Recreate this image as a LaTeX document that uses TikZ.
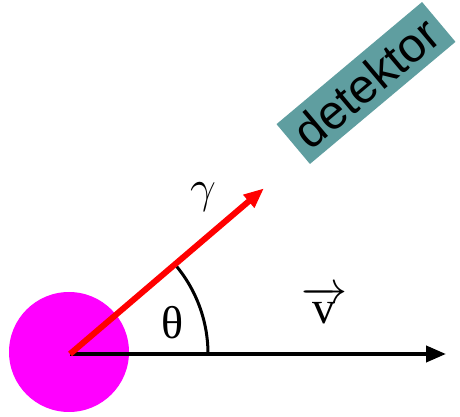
\RequirePackage{fix-cm}
\documentclass[tikz,border=0pt]{standalone}
\usepackage{fontspec}
\usepackage{xcolor}
\usetikzlibrary{arrows.meta,calc}
\newfontfamily\detfont{Liberation Sans}
\newfontfamily\greekfont{Liberation Serif}
\definecolor{detcolor}{HTML}{5F9EA0}
\definecolor{ballcolor}{HTML}{FF00FF}
\tikzset{
  bigtip/.style={-{Triangle[length=20pt,width=16pt]}},
  biglabel/.style={font=\greekfont\fontsize{46}{46}\selectfont}
}
\begin{document}
\begin{tikzpicture}[x=1pt,y=1pt]
            \useasboundingbox (0,0) rectangle (460,417);
            \fill[ballcolor] (69,65) circle (60);
            \coordinate (o) at (70,63);
            \coordinate (vend) at (446,63);
            \coordinate (gend) at ($(o)+(40.5:255)$);
            \draw[line width=4pt, bigtip] (o) -- (vend);
            \draw[line width=3pt] ($(o)+(138,0)$) arc (0:40.5:138);
            \draw[red, line width=6pt, bigtip] (o) -- (gend);
            \node[biglabel] (theta) at (173,94) {θ};
            \node[biglabel] (gamma) at (203,220) {$\gamma$};
            \node[biglabel] (vel) at (324,112) {$\overrightarrow{\hbox{\greekfont v}}$};
            \node[fill=detcolor, rotate=40, minimum width=190pt, minimum height=52pt,
                  inner sep=0pt, font=\detfont\fontsize{48}{48}\selectfont] (det) at (366,334) {detektor};
        \end{tikzpicture}
\end{document}
